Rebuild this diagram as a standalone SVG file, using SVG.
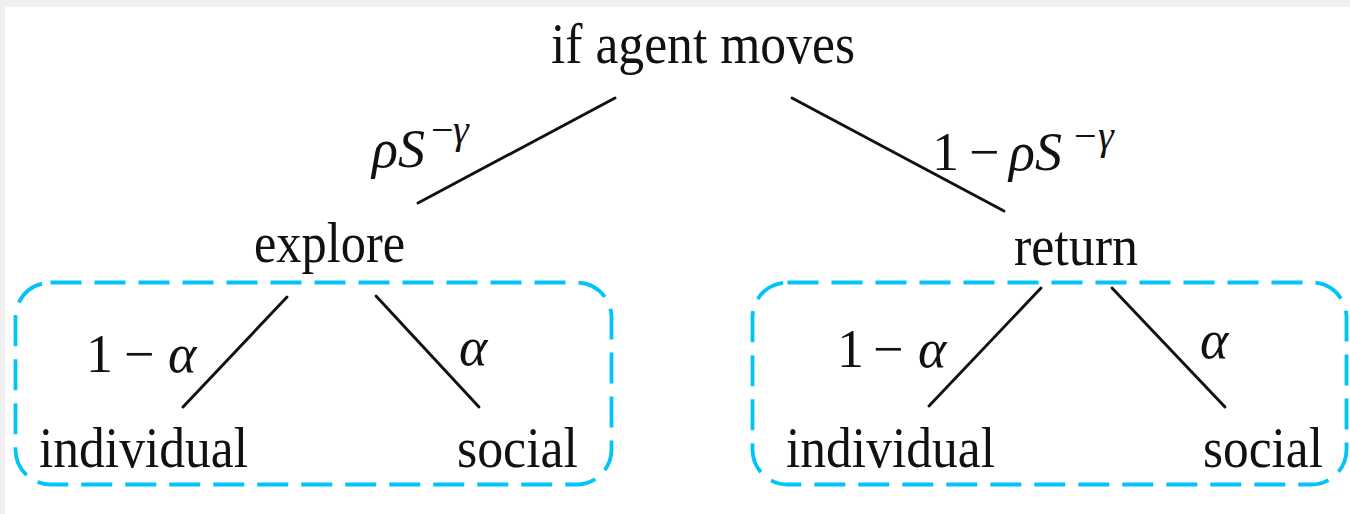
<svg xmlns="http://www.w3.org/2000/svg" width="1350" height="514" viewBox="0 0 1350 514">
  <style>
    .t { font-family: "Liberation Serif", "Times New Roman", serif; font-size: 56px; fill: #111; }
    .m { font-family: "Liberation Serif", "Times New Roman", serif; font-size: 54px; fill: #111; }
    .i { font-style: italic; }
    .sup { font-size: 40px; }
    .edge { stroke: #111; stroke-width: 2.9; fill: none; stroke-linecap: round; }
    .box { fill: none; stroke: #00c4fa; stroke-width: 3.8; stroke-dasharray: 31 13; }
  </style>
  <rect x="0" y="0" width="1350" height="514" fill="#ffffff"/>
  <rect x="0" y="0" width="1350" height="7" fill="#f0f0f0"/>
  <rect x="0" y="0" width="5" height="514" fill="#f0f0f0"/>

  <g id="group-explore">
    <rect class="box" x="15.5" y="282.5" width="596" height="202" rx="35" ry="35"/>
  </g>
  <g id="group-return">
    <rect class="box" x="752.5" y="282.5" width="594" height="202" rx="35" ry="35"/>
  </g>

  <g id="connectors">
    <line class="edge" x1="615" y1="98" x2="418" y2="203"/>
    <line class="edge" x1="792" y1="98" x2="1004" y2="211"/>
    <line class="edge" x1="287" y1="297" x2="183" y2="407"/>
    <line class="edge" x1="376" y1="296" x2="479" y2="407"/>
    <line class="edge" x1="1041" y1="288" x2="929" y2="406"/>
    <line class="edge" x1="1112" y1="288" x2="1225" y2="407"/>
  </g>

  <g id="labels">
    <text class="m"><tspan class="i" x="372" y="167">ρS</tspan><tspan class="sup" x="431" y="143">−</tspan><tspan class="sup i" x="453" y="143">γ</tspan></text>
    <text class="m"><tspan x="932" y="170">1</tspan><tspan x="969" y="170">−</tspan><tspan class="i" x="1009" y="170">ρS</tspan><tspan class="sup" x="1074" y="149">−</tspan><tspan class="sup i" x="1098" y="149">γ</tspan></text>
    <text class="m"><tspan x="86" y="372">1</tspan><tspan x="124" y="372">−</tspan><tspan class="i" x="168" y="372">α</tspan></text>
    <text class="m i" x="459" y="365">α</text>
    <text class="m"><tspan x="837" y="367">1</tspan><tspan x="873" y="367">−</tspan><tspan class="i" x="918" y="367">α</tspan></text>
    <text class="m i" x="1200" y="358">α</text>
  </g>

  <g id="node-root">
    <text class="t" x="551" y="63" textLength="304" lengthAdjust="spacingAndGlyphs">if agent moves</text>
  </g>
  <g id="node-explore">
    <text class="t" x="254" y="262" textLength="151" lengthAdjust="spacingAndGlyphs">explore</text>
  </g>
  <g id="node-return">
    <text class="t" x="1014" y="265" textLength="124" lengthAdjust="spacingAndGlyphs">return</text>
  </g>
  <g id="node-individual-1">
    <text class="t" x="39" y="467" textLength="209" lengthAdjust="spacingAndGlyphs">individual</text>
  </g>
  <g id="node-social-1">
    <text class="t" x="457" y="467" textLength="121" lengthAdjust="spacingAndGlyphs">social</text>
  </g>
  <g id="node-individual-2">
    <text class="t" x="786" y="467" textLength="209" lengthAdjust="spacingAndGlyphs">individual</text>
  </g>
  <g id="node-social-2">
    <text class="t" x="1203" y="467" textLength="120" lengthAdjust="spacingAndGlyphs">social</text>
  </g>
</svg>
